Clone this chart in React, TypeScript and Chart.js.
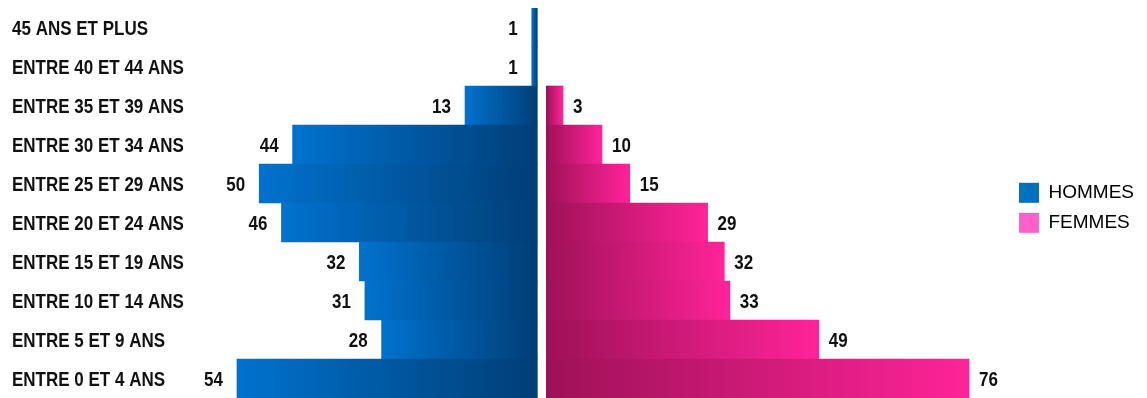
import React, { useEffect, useRef } from 'react';
import { Chart, registerables } from 'chart.js';

Chart.register(...registerables);

const categories = [
  '45 ANS ET PLUS',
  'ENTRE 40 ET 44 ANS',
  'ENTRE 35 ET 39 ANS',
  'ENTRE 30 ET 34 ANS',
  'ENTRE 25 ET 29 ANS',
  'ENTRE 20 ET 24 ANS',
  'ENTRE 15 ET 19 ANS',
  'ENTRE 10 ET 14 ANS',
  'ENTRE 5 ET 9 ANS',
  'ENTRE 0 ET 4 ANS',
];
const hommes = [1, 1, 13, 44, 50, 46, 32, 31, 28, 54];
const femmes = [0, 0, 3, 10, 15, 29, 32, 33, 49, 76];
const seriesNames = ['HOMMES', 'FEMMES'];
const legendColors = ['#0070C0', '#FF5FC8'];

const GAP = 0.81;
const FONT = '"Liberation Sans", Arial, sans-serif';
const SQUEEZE = 0.85;

function blueFill(c: any) {
  const chart = c.chart;
  if (!chart.chartArea || c.dataIndex === undefined) return '#0060B0';
  const xs = chart.scales.x;
  const v = hommes[c.dataIndex] || 0;
  const inner = xs.getPixelForValue(-GAP);
  const outer = xs.getPixelForValue(-GAP - v);
  const g = chart.ctx.createLinearGradient(outer, 0, inner, 0);
  g.addColorStop(0, '#0072CE');
  g.addColorStop(1, '#003E76');
  return g;
}

function pinkFill(c: any) {
  const chart = c.chart;
  if (!chart.chartArea || c.dataIndex === undefined) return '#E0208A';
  const xs = chart.scales.x;
  const v = femmes[c.dataIndex] || 0;
  const inner = xs.getPixelForValue(GAP);
  const outer = xs.getPixelForValue(GAP + v);
  const g = chart.ctx.createLinearGradient(inner, 0, outer, 0);
  g.addColorStop(0, '#9E1157');
  g.addColorStop(1, '#FF2399');
  return g;
}

function drawNarrow(ctx: CanvasRenderingContext2D, text: string, x: number, y: number, align: CanvasTextAlign) {
  ctx.save();
  ctx.translate(x, y);
  ctx.scale(SQUEEZE, 1);
  ctx.textAlign = align;
  ctx.fillText(text, 0, 0);
  ctx.restore();
}

const textPlugin = {
  id: 'textPlugin',
  afterDatasetsDraw(chart: any) {
    const { ctx } = chart;
    const xs = chart.scales.x;
    const ys = chart.scales.y;
    ctx.save();
    ctx.font = `bold 20px ${FONT}`;
    ctx.fillStyle = '#111';
    ctx.textBaseline = 'middle';
    chart.data.labels.forEach((lab: string, i: number) => {
      drawNarrow(ctx, lab, ys.left, ys.getPixelForValue(i) + 2, 'left');
    });
    [hommes, femmes].forEach((vals, di) => {
      vals.forEach((v, i) => {
        if (!v) return;
        const y = ys.getPixelForValue(i) + 2;
        if (di === 0) {
          drawNarrow(ctx, String(v), xs.getPixelForValue(-GAP - v) - 14, y, 'right');
        } else {
          drawNarrow(ctx, String(v), xs.getPixelForValue(GAP + v) + 10, y, 'left');
        }
      });
    });
    ctx.restore();
  },
};

export default function App() {
  const ref = useRef<HTMLCanvasElement | null>(null);
  useEffect(() => {
    if (!ref.current) return;
    const chart = new Chart(ref.current, {
      type: 'bar',
      data: {
        labels: categories,
        datasets: [
          {
            label: seriesNames[0],
            data: hommes.map((v) => (v ? [-GAP, -GAP - v] : null)) as any,
            backgroundColor: blueFill as any,
            borderWidth: 0,
            grouped: false,
            barPercentage: 1,
            categoryPercentage: 1,
          },
          {
            label: seriesNames[1],
            data: femmes.map((v) => (v ? [GAP, GAP + v] : null)) as any,
            backgroundColor: pinkFill as any,
            borderWidth: 0,
            grouped: false,
            barPercentage: 1,
            categoryPercentage: 1,
          },
        ],
      },
      options: {
        indexAxis: 'y',
        animation: false,
        responsive: true,
        maintainAspectRatio: false,
        layout: { padding: { left: 4, right: -5, top: 0, bottom: 0 } },
        scales: {
          x: {
            display: false,
            min: -62,
            max: 84,
          },
          y: {
            grid: { display: false },
            border: { display: false },
            afterFit: (s: any) => {
              s.width = 185;
            },
            ticks: { display: false },
          },
        },
        plugins: {
          tooltip: { enabled: false },
          legend: {
            position: 'right',
            align: 'center',
            title: { display: true, text: ' ', padding: 0, font: { size: 8 } },
            labels: {
              boxWidth: 20,
              boxHeight: 20,
              padding: 10,
              color: '#000',
              font: { family: FONT, size: 19 },
              generateLabels: () =>
                seriesNames.map((n, i) => ({
                  text: n,
                  fillStyle: legendColors[i],
                  strokeStyle: legendColors[i],
                  fontColor: '#000',
                  lineWidth: 0,
                  hidden: false,
                  datasetIndex: i,
                })),
            },
          },
        },
      },
      plugins: [textPlugin],
    });
    return () => chart.destroy();
  }, []);
  return (
    <div style={{ position: 'relative', width: 1131, height: 390 }}>
      <canvas ref={ref} />
    </div>
  );
}
